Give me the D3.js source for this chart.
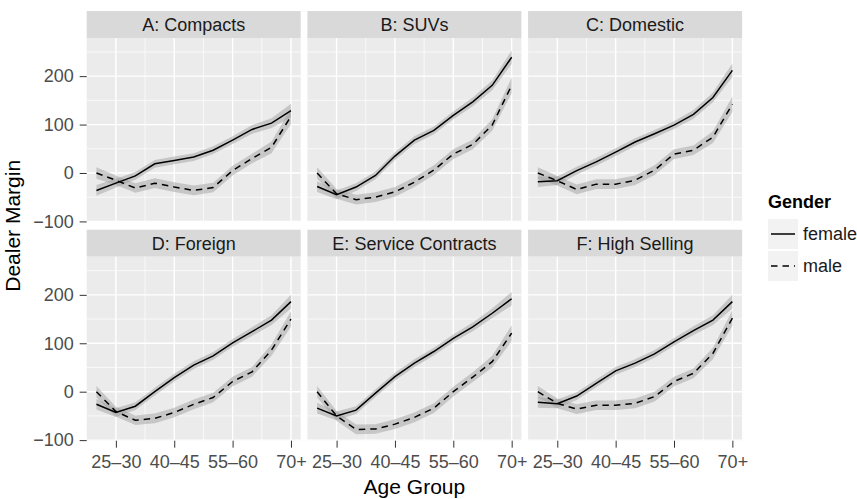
<!DOCTYPE html>
<html>
<head>
<meta charset="utf-8">
<script src="https://cdn.jsdelivr.net/npm/d3@7"></script>
<style>
  body { margin: 0; background: #fff; }
  text { font-family: "Liberation Sans", Arial, Helvetica, sans-serif; }
</style>
</head>
<body>
<div id="chart"></div>
<script>
const WIDTH = 857;
const HEIGHT = 499;

// facets
const panelTitles = ["A: Compacts", "B: SUVs", "C: Domestic", "D: Foreign", "E: Service Contracts", "F: High Selling"];

// age groups (x), only some of them are labelled
const ageGroups = ["20–25", "25–30", "30–35", "35–40", "40–45", "45–50", "50–55", "55–60", "60–65", "65–70", "70+"];
const ageTicks = ["25–30", "40–45", "55–60", "70+"];
const marginTicks = [-100, 0, 100, 200];
const marginMinor = [-50, 50, 150, 250];

// dealer margin per panel
const female = [
  [-36, -21, -6, 19, 26, 33, 47, 68, 90, 103, 129],
  [-28, -45, -29, -5, 35, 68, 88, 119, 147, 181, 239],
  [-18, -16, 5, 23, 43, 64, 81, 99, 121, 156, 212],
  [-26, -43, -30, 0, 29, 55, 74, 101, 124, 148, 186],
  [-34, -50, -38, -3, 31, 59, 83, 110, 134, 162, 192],
  [-22, -25, -9, 17, 43, 59, 78, 103, 126, 148, 186]
];
const male = [
  [0, -15, -31, -21, -29, -36, -30, 5, 30, 53, 117],
  [0, -43, -55, -50, -39, -19, 6, 39, 59, 99, 181],
  [0, -16, -34, -23, -23, -15, 6, 39, 47, 74, 142],
  [0, -41, -59, -55, -43, -26, -12, 21, 41, 86, 150],
  [0, -50, -78, -77, -67, -53, -34, 0, 30, 62, 121],
  [0, -24, -36, -28, -28, -24, -10, 21, 38, 79, 152]
];
// half width of the confidence band
const femaleBand = [11, 9, 8, 8, 8, 8, 8, 8, 9, 10, 14];
const maleBand = [12, 10, 10, 10, 10, 10, 10, 10, 10, 12, 16];

const genders = ["female", "male"];

const PANEL_LEFT = 86.7;
const PANEL_TOP = 38;
const PANEL_W = 214;
const PANEL_H = 184;
const COL_STEP = 220.7;
const ROW_STEP = 218.7;
const STRIP_H = 27;

const PANEL_BG = "#EBEBEB";
const STRIP_BG = "#D9D9D9";
const TICK_COLOR = "#333333";
const TICK_TEXT = "#4D4D4D";
const LINE_W = 1.5;
const DASH = "6.5,5";

const x = d3.scaleLinear().domain([-0.5, ageGroups.length - 0.5]).range([0, PANEL_W]);
const y = d3.scaleLinear().domain([-101.2, 278.8]).range([PANEL_H, 0]);

const svg = d3.select("#chart").append("svg")
  .attr("width", WIDTH)
  .attr("height", HEIGHT)
  .attr("viewBox", [0, 0, WIDTH, HEIGHT]);

svg.append("rect").attr("width", WIDTH).attr("height", HEIGHT).attr("fill", "#fff");

const line = d3.line().x((d, i) => x(i)).y(d => y(d));

panelTitles.forEach((title, p) => {
  const col = p % 3;
  const row = Math.floor(p / 3);
  const g = svg.append("g")
    .attr("transform", `translate(${PANEL_LEFT + col * COL_STEP},${PANEL_TOP + row * ROW_STEP})`);

  // strip
  g.append("rect")
    .attr("y", -STRIP_H)
    .attr("width", PANEL_W)
    .attr("height", STRIP_H)
    .attr("fill", STRIP_BG);
  g.append("text")
    .attr("x", PANEL_W / 2)
    .attr("y", -STRIP_H / 2)
    .attr("dy", "0.35em")
    .attr("text-anchor", "middle")
    .attr("fill", "#1A1A1A")
    .style("font-size", "18px")
    .text(title);

  // panel background + grid
  g.append("rect").attr("width", PANEL_W).attr("height", PANEL_H).attr("fill", PANEL_BG);

  const minorX = ageTicks.slice(1).map(t => ageGroups.indexOf(t) - 1.5);
  const majorX = ageTicks.map(t => ageGroups.indexOf(t));

  g.append("g").selectAll("line").data(marginMinor).join("line")
    .attr("x1", 0).attr("x2", PANEL_W)
    .attr("y1", d => y(d)).attr("y2", d => y(d))
    .attr("stroke", "#fff").attr("stroke-width", 0.7);
  g.append("g").selectAll("line").data(minorX).join("line")
    .attr("y1", 0).attr("y2", PANEL_H)
    .attr("x1", d => x(d)).attr("x2", d => x(d))
    .attr("stroke", "#fff").attr("stroke-width", 0.7);
  g.append("g").selectAll("line").data(marginTicks).join("line")
    .attr("x1", 0).attr("x2", PANEL_W)
    .attr("y1", d => y(d)).attr("y2", d => y(d))
    .attr("stroke", "#fff").attr("stroke-width", 1.4);
  g.append("g").selectAll("line").data(majorX).join("line")
    .attr("y1", 0).attr("y2", PANEL_H)
    .attr("x1", d => x(d)).attr("x2", d => x(d))
    .attr("stroke", "#fff").attr("stroke-width", 1.4);

  // bands
  const series = [
    { values: female[p], band: femaleBand, dash: null },
    { values: male[p], band: maleBand, dash: DASH }
  ];
  series.forEach(s => {
    const area = d3.area()
      .x((d, i) => x(i))
      .y0((d, i) => y(d - s.band[i]))
      .y1((d, i) => y(d + s.band[i]));
    g.append("path")
      .datum(s.values)
      .attr("d", area)
      .attr("fill", "#999999")
      .attr("fill-opacity", 0.45);
  });
  series.forEach(s => {
    g.append("path")
      .datum(s.values)
      .attr("d", line)
      .attr("fill", "none")
      .attr("stroke", "#000")
      .attr("stroke-width", LINE_W)
      .attr("stroke-dasharray", s.dash);
  });

  // axes
  if (col === 0) {
    const ay = g.append("g")
      .call(d3.axisLeft(y).tickValues(marginTicks).tickSize(7).tickPadding(6)
        .tickFormat(d => d < 0 ? "\u2212" + Math.abs(d) : d));
    styleAxis(ay);
  }
  if (row === 1) {
    const ax = g.append("g")
      .attr("transform", `translate(0,${PANEL_H})`)
      .call(d3.axisBottom(x).tickValues(majorX).tickSize(7).tickPadding(8)
        .tickFormat(i => ageGroups[i]));
    styleAxis(ax);
  }
});

function styleAxis(a) {
  a.select(".domain").remove();
  a.selectAll(".tick line").attr("stroke", TICK_COLOR).attr("stroke-width", 1);
  a.selectAll(".tick text")
    .attr("fill", TICK_TEXT)
    .style("font-size", "18px")
    .style("font-family", "'Liberation Sans', Arial, sans-serif");
}

// axis titles
svg.append("text")
  .attr("x", PANEL_LEFT + (2 * COL_STEP + PANEL_W) / 2)
  .attr("y", 494)
  .attr("text-anchor", "middle")
  .style("font-size", "21px")
  .text("Age Group");

svg.append("text")
  .attr("transform", `translate(20,${(PANEL_TOP - STRIP_H + PANEL_TOP + ROW_STEP + PANEL_H) / 2}) rotate(-90)`)
  .attr("text-anchor", "middle")
  .style("font-size", "21px")
  .text("Dealer Margin");

// legend
const legend = svg.append("g").attr("transform", "translate(768,208)");
legend.append("text")
  .style("font-size", "18px")
  .style("font-weight", "bold")
  .text("Gender");

const keys = legend.selectAll("g.key").data(genders).join("g")
  .attr("class", "key")
  .attr("transform", (d, i) => `translate(0,${11 + i * 32})`);
keys.append("rect")
  .attr("width", 30).attr("height", 30)
  .attr("fill", "#F2F2F2");
keys.append("line")
  .attr("x1", 3).attr("x2", 27)
  .attr("y1", 15).attr("y2", 15)
  .attr("stroke", "#000")
  .attr("stroke-width", LINE_W)
  .attr("stroke-dasharray", d => d === "male" ? DASH : null);
keys.append("text")
  .attr("x", 35)
  .attr("y", 15)
  .attr("dy", "0.35em")
  .attr("fill", "#1A1A1A")
  .style("font-size", "18px")
  .text(d => d);
</script>
</body>
</html>
